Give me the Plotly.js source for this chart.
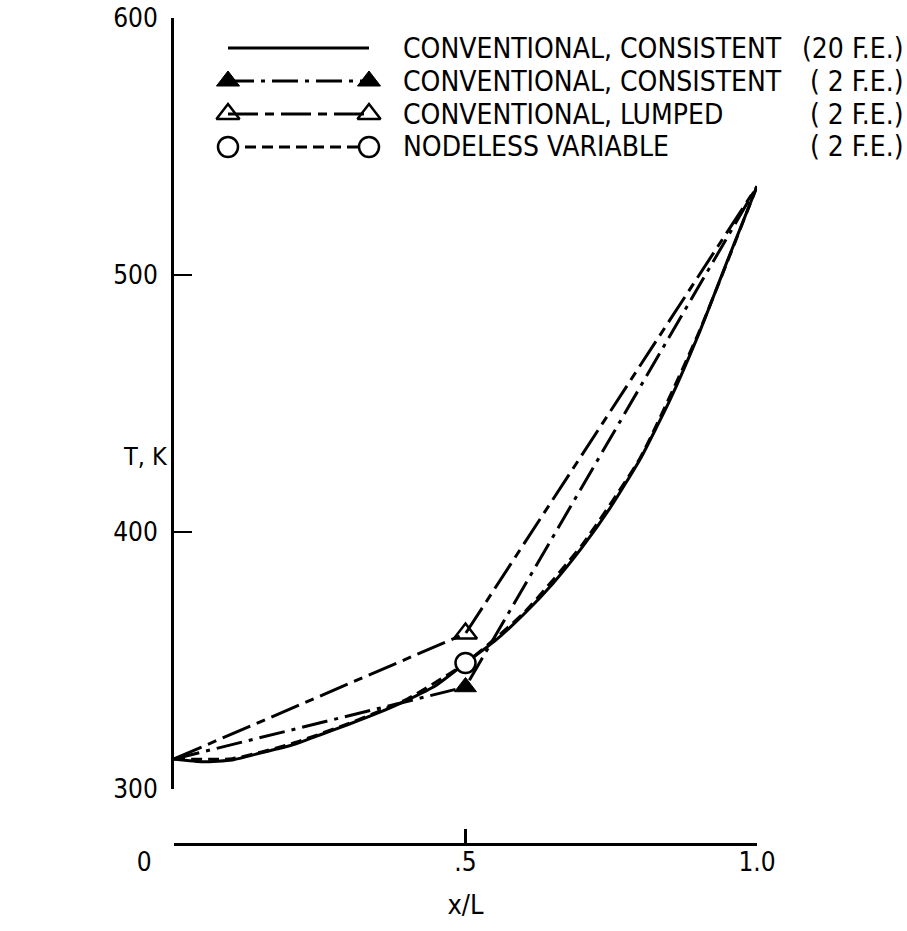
<!DOCTYPE html>
<html>
<head>
<meta charset="utf-8">
<script src="https://cdn.plot.ly/plotly-3.0.1.min.js"></script>
<style>
  html, body { margin: 0; padding: 0; background: #fff; }
  #chart { width: 907px; height: 931px; }
</style>
</head>
<body>
<div id="chart"></div>
<script>
// ---- data ----
const x20 = [0, 0.05, 0.1, 0.15, 0.2, 0.25, 0.3, 0.35, 0.4, 0.45, 0.5, 0.55, 0.6, 0.65, 0.7, 0.75, 0.8, 0.85, 0.9, 0.95, 1.0];
const T20 = [311.7, 310.6, 311.3, 314.1, 316.9, 321.0, 325.2, 329.6, 334.6, 340.4, 349.0, 357.5, 368.0, 380.0, 394.0, 410.0, 428.5, 451.0, 477.0, 506.0, 534.5];

const xConsist2 = [0, 0.5, 1.0];
const TConsist2 = [311.7, 339.7, 534.5];

const xLumped2 = [0, 0.5, 1.0];
const TLumped2 = [311.7, 360.5, 534.5];

const xNodeless = [0, 0.1, 0.2, 0.3, 0.4, 0.5, 0.6, 0.7, 0.8, 0.9, 1.0];
const TNodeless = [311.7, 311.8, 317.5, 325.5, 335.0, 349.0, 368.5, 395.0, 429.0, 477.5, 534.5];

const legendLabels = ["CONVENTIONAL, CONSISTENT", "CONVENTIONAL, CONSISTENT", "CONVENTIONAL, LUMPED", "NODELESS VARIABLE"];
const legendSuffix = ["(20 F.E.)", "( 2 F.E.)", "( 2 F.E.)", "( 2 F.E.)"];

const yTickVals = [300, 400, 500, 600];
const xTickVals = [0, 0.5, 1.0];
const xTickText = ["0\u00a0\u00a0\u00a0\u00a0\u00a0\u00a0\u00a0\u00a0", ".5", "1.0"];

// ---- styles ----
const FONT = "DejaVu Sans Condensed, Liberation Sans Narrow, DejaVu Sans, sans-serif";
const BLK = "#000";
const LW = 3;
const styles = [
  { dash: "solid", symbol: null },
  { dash: "26px,7px,4px,7px", symbol: "triangle-up" },
  { dash: "30px,7px,9px,7px", symbol: "triangle-up-open" },
  { dash: "11px,6px", symbol: "circle-open" }
];

function midNode(xs, ys) {
  const i = xs.indexOf(0.5);
  return { x: [xs[i]], y: [ys[i]] };
}

const traces = [];
traces.push({ x: x20, y: T20, mode: "lines", line: { color: BLK, width: LW, shape: "spline", smoothing: 0.5 }, showlegend: false, hoverinfo: "skip" });
traces.push({ x: xNodeless, y: TNodeless, mode: "lines", line: { color: BLK, width: LW, dash: styles[3].dash, shape: "spline", smoothing: 0.5 }, showlegend: false });
traces.push({ x: xConsist2, y: TConsist2, mode: "lines", line: { color: BLK, width: LW, dash: styles[1].dash }, showlegend: false });
traces.push({ x: xLumped2, y: TLumped2, mode: "lines", line: { color: BLK, width: LW, dash: styles[2].dash }, showlegend: false });

const mC = midNode(xConsist2, TConsist2);
const mL = midNode(xLumped2, TLumped2);
const mN = midNode(xNodeless, TNodeless);
traces.push({ x: mC.x, y: mC.y, mode: "markers", cliponaxis: false, marker: { symbol: "triangle-up", size: 19, color: BLK, line: { color: BLK, width: 1 } }, showlegend: false });
traces.push({ x: mL.x, y: mL.y, mode: "markers", cliponaxis: false, marker: { symbol: "triangle-up-open", size: 20, color: BLK, line: { color: BLK, width: 2.5 } }, showlegend: false });
traces.push({ x: mN.x, y: mN.y, mode: "markers", cliponaxis: false, marker: { symbol: "circle", size: 20, color: "#fff", line: { color: BLK, width: 2.5 } }, showlegend: false });

// ---- hand-drawn style legend (layout only, pixel frame) ----
const PX = { left: 174, right: 757, top: 18, bottom: 844 };
const px2px = v => (v - PX.left) / (PX.right - PX.left);
const py2py = v => (PX.bottom - v) / (PX.bottom - PX.top);
const LEG = { x0: 228, x1: 369, rows: [48, 81, 114, 147], textX: 401, suffixRight: 906 };
const legendAnn = [];
for (let r = 0; r < 4; r++) {
  const yy = LEG.rows[r];
  traces.push({
    x: [LEG.x0, LEG.x1], y: [yy, yy], xaxis: "x2", yaxis: "y2", mode: "lines",
    line: { color: BLK, width: LW, dash: styles[r].dash }, cliponaxis: false, showlegend: false, hoverinfo: "skip"
  });
  if (styles[r].symbol) {
    const filled = styles[r].symbol === "triangle-up";
    const circ = styles[r].symbol === "circle-open";
    traces.push({
      x: [LEG.x0, LEG.x1], y: [yy, yy], xaxis: "x2", yaxis: "y2", mode: "markers", cliponaxis: false, showlegend: false,
      marker: circ ? { symbol: "circle", size: 20, color: "#fff", line: { color: BLK, width: 2.5 } }
                   : { symbol: styles[r].symbol, size: 20, color: BLK, line: { color: BLK, width: filled ? 1 : 2.5 } }
    });
  }
  legendAnn.push({ xref: "paper", yref: "paper", x: px2px(LEG.textX), y: py2py(yy), xanchor: "left", yanchor: "middle", text: legendLabels[r], showarrow: false, font: { family: FONT, size: 28, color: BLK } });
  legendAnn.push({ xref: "paper", yref: "paper", x: px2px(LEG.suffixRight), y: py2py(yy), xanchor: "right", yanchor: "middle", text: legendSuffix[r], showarrow: false, font: { family: FONT, size: 28, color: BLK } });
}

const layout = {
  width: 907, height: 931,
  margin: { l: 174, r: 150, t: 18, b: 87, pad: 0 },
  paper_bgcolor: "#fff", plot_bgcolor: "rgba(0,0,0,0)",
  showlegend: false,
  font: { family: FONT, size: 26, color: BLK },
  xaxis: {
    range: [0, 1], anchor: "free", position: 0,
    tickvals: xTickVals, ticktext: xTickText,
    ticks: "inside", ticklen: 14, tickwidth: 2.5, tickcolor: BLK,
    showline: true, linewidth: 2.5, linecolor: BLK,
    showgrid: false, zeroline: false, ticklabelstandoff: -6,
    tickfont: { family: FONT, size: 26, color: BLK },
    title: { text: "x/L", standoff: 19, font: { family: FONT, size: 27, color: BLK } }
  },
  yaxis: {
    range: [300, 600], domain: [0.0666, 1], anchor: "x",
    tickvals: yTickVals,
    ticks: "inside", ticklen: 18, tickwidth: 2.5, tickcolor: BLK,
    showline: true, linewidth: 3, linecolor: BLK,
    showgrid: false, zeroline: false, ticklabelstandoff: 8,
    tickfont: { family: FONT, size: 26, color: BLK }
  },
  xaxis2: { domain: [0, 1], range: [PX.left, PX.right], visible: false, anchor: "y2", fixedrange: true },
  yaxis2: { domain: [0, 1], range: [PX.bottom, PX.top], autorange: false, visible: false, anchor: "x2", fixedrange: true },
  annotations: legendAnn.concat([
    { xref: "paper", yref: "paper", x: px2px(170), y: py2py(456), text: "T, K", showarrow: false, xanchor: "right", yanchor: "middle", font: { family: FONT, size: 25, color: BLK } }
  ])
};

Plotly.newPlot("chart", traces, layout, { staticPlot: true, displayModeBar: false });
</script>
</body>
</html>
